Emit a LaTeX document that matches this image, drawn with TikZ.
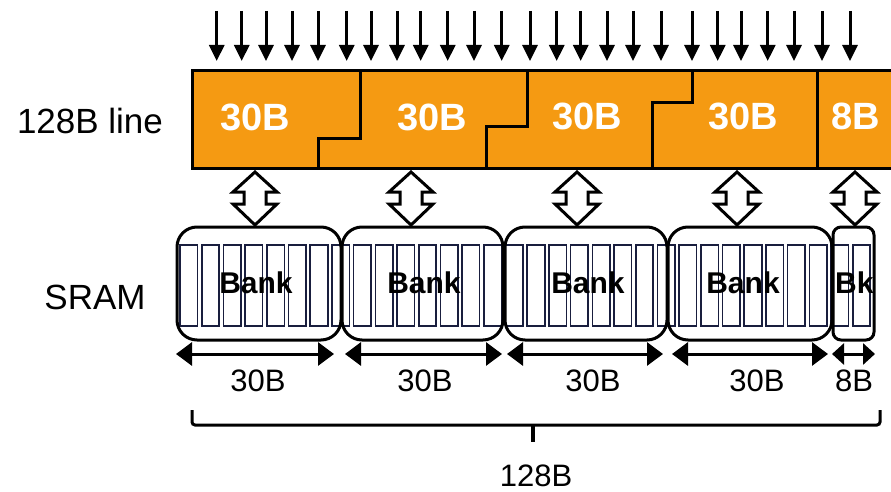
\documentclass[tikz,border=0pt]{standalone}
\usepackage{fontspec}
\setmainfont{Liberation Sans}
\usetikzlibrary{arrows.meta}
\definecolor{lineorange}{RGB}{245,154,18}
\definecolor{stripnavy}{RGB}{25,30,62}
\tikzset{
  thickline/.style={line width=3pt, black},
  downarrow/.style={line width=3pt, -{Triangle[width=15pt,length=16pt]}},
  dimarrow/.style={line width=3pt, {Triangle[width=23pt,length=16pt]}-{Triangle[width=23pt,length=16pt]}},
  smalldim/.style={line width=3pt, {Triangle[width=21pt,length=12pt]}-{Triangle[width=21pt,length=12pt]}},
  blockarrow/.style={line width=3pt, fill=white, line join=miter},
  strip/.style={draw=stripnavy, line width=1.6pt, fill=white},
  bankbox/.style={draw, line width=3pt, rounded corners=20pt},
  seglabel/.style={text=white, font=\fontsize{38}{40}\selectfont\bfseries, inner sep=0pt},
  banklabel/.style={font=\fontsize{30}{32}\selectfont\bfseries, inner sep=0pt},
  sizelabel/.style={font=\fontsize{31}{33}\selectfont, inner sep=0pt},
  sidelabel/.style={font=\fontsize{35}{37}\selectfont, inner sep=0pt},
}
\begin{document}
\begin{tikzpicture}[x=1pt,y=-1pt]
\useasboundingbox (0,0) rectangle (891,492);
\clip (0,0) rectangle (891,492);

% side labels
\node[sidelabel] (lineLabel) at (90,121) {128B line};
\node[sidelabel] (sramLabel) at (95,297) {SRAM};

% top arrows
\foreach \x [count=\i] in {216.7,241.7,266,292,318,346.7,371,397,420.7,447.7,474,501.7,530,556.7,580.7,607,633,661,692,717.7,741,767.7,794,822,850}{
  \coordinate (at\i) at (\x,11);
  \coordinate (ab\i) at (\x,61);
  \draw[downarrow] (at\i) -- (ab\i);
}

% orange line
\fill[lineorange] (192,71) rectangle (900,168);
\draw[thickline] (192,71) rectangle (900,168);
\draw[thickline] (360,71) -- (360,139) -- (318,139) -- (318,168);
\draw[thickline] (527,71) -- (527,127) -- (486,127) -- (486,168);
\draw[thickline] (692,71) -- (692,103) -- (652,103) -- (652,168);
\draw[thickline] (817,71) -- (817,168);

\node[seglabel] (s1) at (255,117) {30B};
\node[seglabel] (s2) at (432,117) {30B};
\node[seglabel] (s3) at (587,116) {30B};
\node[seglabel] (s4) at (743,116) {30B};
\node[seglabel] (s5) at (856,116) {8B};

% hollow double arrows
\foreach \cx [count=\i] in {255,411,577,737,855}{
  \draw[blockarrow] (\cx,172) -- (\cx+22,192) -- (\cx+11,192) -- (\cx+11,204)
     -- (\cx+22,204) -- (\cx,225) -- (\cx-22,204) -- (\cx-11,204)
     -- (\cx-11,192) -- (\cx-22,192) -- cycle;
}

% strips
\foreach \i in {0,...,31}{
  \draw[strip] ({180+21.7*\i},245) rectangle ({180+21.7*\i+17.5},326);
}

% banks
\node[bankbox, minimum width=164pt, minimum height=113pt] (b1) at (259,283.5) {};
\node[bankbox, minimum width=161pt, minimum height=113pt] (b2) at (422.5,283.5) {};
\node[bankbox, minimum width=162pt, minimum height=113pt] (b3) at (586,283.5) {};
\node[bankbox, minimum width=164pt, minimum height=113pt] (b4) at (750,283.5) {};
\node[bankbox, rounded corners=8pt, minimum width=41pt, minimum height=113pt] (b5) at (853.5,283.5) {};

\node[banklabel] (l1) at (256,283) {Bank};
\node[banklabel] (l2) at (424,283) {Bank};
\node[banklabel] (l3) at (588,283) {Bank};
\node[banklabel] (l4) at (743,283) {Bank};
\begin{scope}
  \clip (833,229) rectangle (872,339);
  \node[banklabel, anchor=west] (l5) at (835,283) {Bk};
\end{scope}

% dimension arrows
\coordinate (d1a) at (176,354); \coordinate (d1b) at (334,354);
\coordinate (d2a) at (345,354); \coordinate (d2b) at (502,354);
\coordinate (d3a) at (507,354); \coordinate (d3b) at (663,354);
\coordinate (d4a) at (672,354); \coordinate (d4b) at (828,354);
\coordinate (d5a) at (832,354); \coordinate (d5b) at (875,354);
\draw[dimarrow] (d1a) -- (d1b);
\draw[dimarrow] (d2a) -- (d2b);
\draw[dimarrow] (d3a) -- (d3b);
\draw[dimarrow] (d4a) -- (d4b);
\draw[smalldim] (d5a) -- (d5b);

\node[sizelabel] (w1) at (258,381) {30B};
\node[sizelabel] (w2) at (425,381) {30B};
\node[sizelabel] (w3) at (593,381) {30B};
\node[sizelabel] (w4) at (757,381) {30B};
\node[sizelabel] (w5) at (854,381) {8B};

% brace
\coordinate (brL) at (192,410);
\coordinate (brR) at (880,410);
\coordinate (brM) at (533,425);
\coordinate (brT) at (533,442);
\draw[thickline, rounded corners=3pt] (brL) -- (192,425) -- (880,425) -- (brR);
\draw[line width=4pt] (brM) -- (brT);
\node[sizelabel] (total) at (536,476) {128B};
\end{tikzpicture}
\end{document}
